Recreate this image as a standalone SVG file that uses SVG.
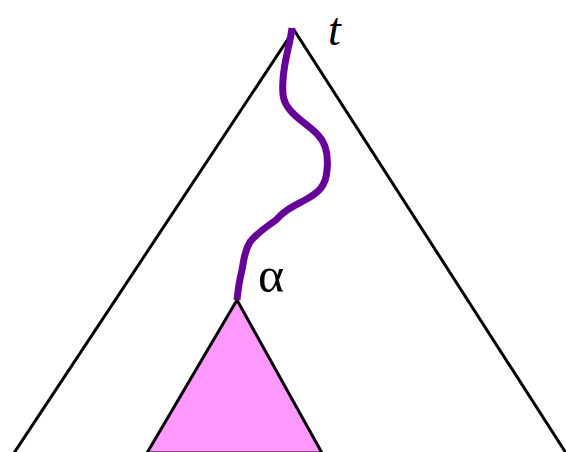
<svg xmlns="http://www.w3.org/2000/svg" width="566" height="452" viewBox="0 0 566 452">
<style>
.edge{fill:none;stroke:#000;stroke-width:3;stroke-linejoin:miter}
.path{fill:none;stroke:#660099;stroke-width:7;stroke-linecap:butt;stroke-linejoin:round}
.lbl{font-family:"Liberation Serif",serif;fill:#000}
</style>
<rect width="566" height="452" fill="#fff"/>
<g id="tree">
<polyline class="edge" points="14,453 294,30 566,453"/>
</g>
<g id="subtree">
<polygon points="237,300 147,453 322,453" fill="#ff99ff" stroke="#000" stroke-width="3"/>
</g>
<g id="connectors">
<path class="path" d="M292,28 C290,45 284,60 283,80 C282,95 283,102 290,110 C298,120 310,126 318,135 C328,145 328,160 327,170 C326,185 320,192 305,200 C292,207 285,210 276,220 C265,228 258,232 250,242 C244,252 244,260 242,270 C239,282 238,290 237,300"/>
</g>
<g id="labels">
<text class="lbl" x="328" y="45" font-size="46" font-style="italic">t</text>
<text class="lbl" x="258" y="292" font-size="50">α</text>
</g>
</svg>
